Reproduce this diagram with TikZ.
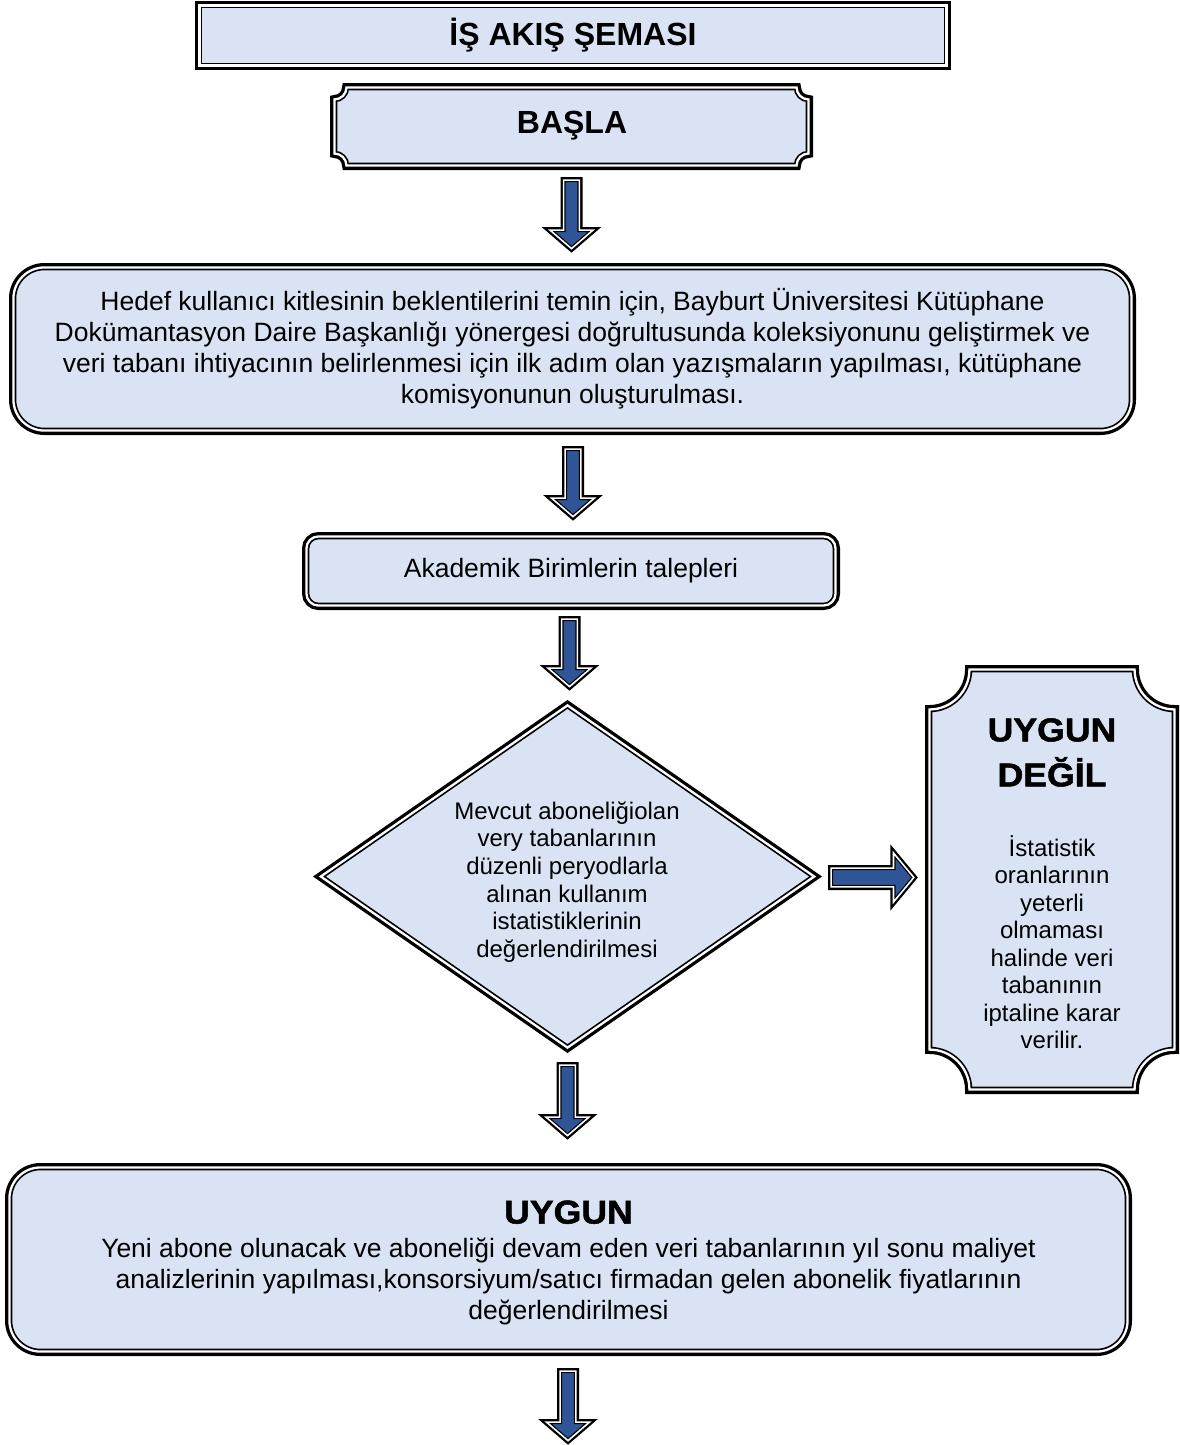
\documentclass[tikz,border=0pt]{standalone}
\usepackage{fontspec}
\setmainfont{Liberation Sans}
\newfontfamily\hdrfont{Liberation Sans}[BoldFeatures={FakeBold=1.5,FakeStretch=1.08}]
\definecolor{lb}{HTML}{DAE3F3}
\definecolor{ab}{HTML}{2F5597}
\tikzset{
  boxfill/.style={preaction={draw=black, line width=8.9pt, line join=miter},
    fill=lb, draw=black, line width=1.7pt, double=white, double distance=2.3pt, line join=miter},
  arrowblk/.style={preaction={draw=black, line width=6.2pt, line join=miter},
    fill=ab, draw=black, line width=1.2pt, double=white, double distance=1.6pt, line join=miter},
  bodyfont/.style={font=\fontsize{26.5}{31}\selectfont},
  smallfont/.style={font=\fontsize{24}{27.6}\selectfont},
  titlefont/.style={font=\fontsize{32}{37}\selectfont\bfseries},
}
% down block arrow: cx, ytop (outer), ytip (outer)
\newcommand\downblk[3]{%
  \draw[arrowblk] ({#1-7.9},{#2+3.1}) -- ({#1+7.9},{#2+3.1}) -- ({#1+7.9},{#3-26+3.1})
    -- ({#1+21.5},{#3-26+3.1}) -- (#1,{#3-4.4}) -- ({#1-21.5},{#3-26+3.1})
    -- ({#1-7.9},{#3-26+3.1}) -- cycle;}
% plaque with concave corners: x1,y1,x2,y2,r
\newcommand\plaquepath[5]{%
  \draw[boxfill] ({#1+#5},#2) -- ({#3-#5},#2)
   .. controls ({#3-#5},{#2+0.552*#5}) and ({#3-0.552*#5},{#2+#5}) .. (#3,{#2+#5})
   -- (#3,{#4-#5})
   .. controls ({#3-0.552*#5},{#4-#5}) and ({#3-#5},{#4-0.552*#5}) .. ({#3-#5},#4)
   -- ({#1+#5},#4)
   .. controls ({#1+#5},{#4-0.552*#5}) and ({#1+0.552*#5},{#4-#5}) .. (#1,{#4-#5})
   -- (#1,{#2+#5})
   .. controls ({#1+0.552*#5},{#2+#5}) and ({#1+#5},{#2+0.552*#5}) .. ({#1+#5},#2)
   -- cycle;}
\begin{document}
\begin{tikzpicture}[x=1pt,y=-1pt]
\useasboundingbox (0,0) rectangle (1179,1445);

% title
\node[boxfill, rectangle, minimum width=747.1pt, minimum height=60.1pt, inner sep=0pt, titlefont] (title) at (573,35.5) {İŞ AKIŞ ŞEMASI};

% start plaque
\plaquepath{334.45}{87.45}{808.55}{165.55}{12}
\node[titlefont, inner sep=0pt] (basla) at (572,126) {BAŞLA};

\downblk{571.5}{177}{253}

% first box
\node[boxfill, rectangle, rounded corners=31pt, minimum width=1118.1pt, minimum height=163.1pt, align=center, bodyfont, inner sep=0pt] (hedef) at (572.5,349)
 {Hedef kullanıcı kitlesinin beklentilerini temin için, Bayburt Üniversitesi Kütüphane\\
  Dokümantasyon Daire Başkanlığı yönergesi doğrultusunda koleksiyonunu geliştirmek ve\\
  veri tabanı ihtiyacının belirlenmesi için ilk adım olan yazışmaların yapılması, kütüphane\\
  komisyonunun oluşturulması.};

\downblk{573}{446}{521}

\node[boxfill, rectangle, rounded corners=12pt, minimum width=529.1pt, minimum height=69.1pt, bodyfont, inner sep=0pt] (akad) at (571,571) {Akademik Birimlerin talepleri};

\downblk{569.5}{616}{691}

% diamond
\draw[boxfill] (320.8,876.5) -- (567.5,705.4) -- (814.2,876.5) -- (567.5,1047.6) -- cycle;
\node[smallfont, align=center, inner sep=0pt] (mevcut) at (567,882)
 {Mevcut aboneliğiolan\\very tabanlarının\\düzenli peryodlarla\\alınan kullanım\\istatistiklerinin\\değerlendirilmesi};

% right arrow
\draw[arrowblk] (831.1,868.1) -- (893.5,868.1) -- (893.5,853) -- (913.8,877.5) -- (893.5,902) -- (893.5,886.9) -- (831.1,886.9) -- cycle;

% right plaque
\plaquepath{929.45}{669.45}{1174.55}{1089.55}{40}
\node[font=\fontsize{33}{45}\selectfont\hdrfont\bfseries, align=center, inner sep=0pt] (degilhdr) at (1052,752.5) {UYGUN\\DEĞİL};
\node[font=\fontsize{24}{27.5}\selectfont, align=center, inner sep=0pt] (degiltxt) at (1052,942)
 {İstatistik\\oranlarının\\yeterli\\olmaması\\halinde veri\\tabanının\\iptaline karar\\verilir.};

\downblk{567.5}{1062}{1140}

% bottom box
\node[boxfill, rectangle, rounded corners=31pt, minimum width=1118.1pt, minimum height=184.1pt, inner sep=0pt] (uygun) at (568.5,1259.5) {};
\node[align=center, bodyfont, inner sep=0pt] (uyguntxt) at (568.5,1262.5)
 {{\hdrfont\bfseries\fontsize{33}{40}\selectfont UYGUN}\\[2.5pt]
  Yeni abone olunacak ve aboneliği devam eden veri tabanlarının yıl sonu maliyet\\
  analizlerinin yapılması,konsorsiyum/satıcı firmadan gelen abonelik fiyatlarının\\
  değerlendirilmesi};

\downblk{568}{1368}{1445}
\end{tikzpicture}
\end{document}
